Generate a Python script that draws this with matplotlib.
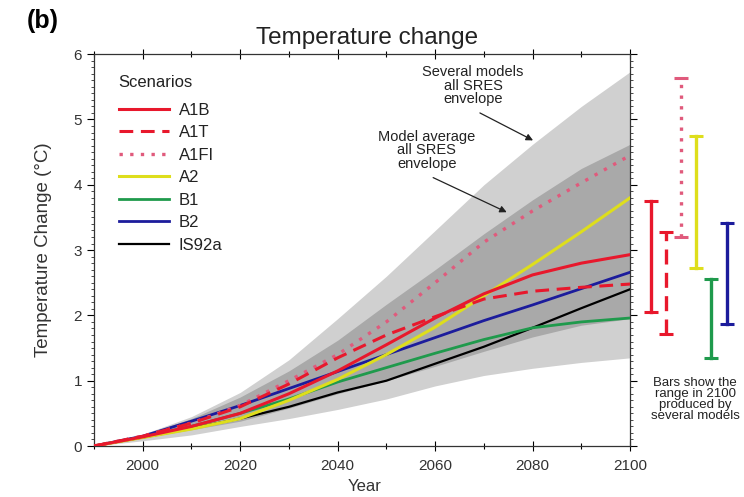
import numpy as np
import matplotlib
matplotlib.use("Agg")
import matplotlib.pyplot as plt
from matplotlib.ticker import MultipleLocator

plt.rcParams['font.family'] = ['Liberation Sans', 'DejaVu Sans']

years = [1990, 2000, 2010, 2020, 2030, 2040, 2050, 2060, 2070, 2080, 2090, 2100]

# envelopes
outer_hi = [0, 0.18, 0.45, 0.82, 1.32, 1.95, 2.60, 3.30, 4.00, 4.62, 5.20, 5.73]
outer_lo = [0, 0.08, 0.17, 0.30, 0.42, 0.56, 0.72, 0.92, 1.08, 1.19, 1.28, 1.35]
inner_hi = [0, 0.17, 0.42, 0.75, 1.15, 1.62, 2.17, 2.70, 3.25, 3.77, 4.25, 4.62]
inner_lo = [0, 0.12, 0.25, 0.38, 0.58, 0.80, 1.00, 1.22, 1.45, 1.67, 1.85, 1.95]

# scenarios
a1b   = [0, 0.14, 0.30, 0.50, 0.80, 1.15, 1.55, 1.96, 2.33, 2.62, 2.80, 2.93]
a1t   = [0, 0.15, 0.35, 0.60, 0.95, 1.35, 1.70, 1.98, 2.25, 2.37, 2.43, 2.48]
a1fi  = [0, 0.15, 0.35, 0.62, 1.00, 1.40, 1.90, 2.50, 3.12, 3.60, 4.03, 4.45]
a2    = [0, 0.13, 0.26, 0.42, 0.70, 1.02, 1.40, 1.82, 2.30, 2.78, 3.28, 3.80]
b1    = [0, 0.14, 0.30, 0.50, 0.72, 0.98, 1.20, 1.42, 1.63, 1.81, 1.90, 1.96]
b2    = [0, 0.15, 0.38, 0.62, 0.88, 1.14, 1.40, 1.66, 1.92, 2.16, 2.41, 2.66]
is92a = [0, 0.13, 0.27, 0.42, 0.60, 0.82, 1.00, 1.26, 1.52, 1.81, 2.11, 2.40]

# ranges in 2100 (bars to the right)
bar_names = ['A1B', 'A1T', 'A1FI', 'A2', 'B1', 'B2']
bar_low  = [2.05, 1.71, 3.20, 2.73, 1.35, 1.87]
bar_high = [3.75, 3.27, 5.63, 4.75, 2.55, 3.41]

red = '#e8182c'
pink = '#e05a7c'
yellow = '#dede1c'
green = '#1f9a4c'
blue = '#1c1c9c'

styles = {
    'A1B':   dict(color=red, ls='-', lw=2.2),
    'A1T':   dict(color=red, ls=(0, (4.5, 2.5)), lw=2.2),
    'A1FI':  dict(color=pink, ls=(0, (1, 2.2)), lw=2.4),
    'A2':    dict(color=yellow, ls='-', lw=2.2),
    'B1':    dict(color=green, ls='-', lw=2.0),
    'B2':    dict(color=blue, ls='-', lw=2.0),
    'IS92a': dict(color='black', ls='-', lw=1.6),
}
series = [('A1B', a1b), ('A1T', a1t), ('A1FI', a1fi), ('A2', a2),
          ('B1', b1), ('B2', b2), ('IS92a', is92a)]

fig = plt.figure(figsize=(7.44, 4.97), dpi=100)
ax = fig.add_axes([0.1263, 0.1026, 0.7205, 0.7884])

ax.fill_between(years, outer_lo, outer_hi, color='#d0d0d0', lw=0, zorder=1)
ax.fill_between(years, inner_lo, inner_hi, color='#a9a9a9', lw=0, zorder=2)

# draw order so red lines stay on top like the original
for name, vals in [('IS92a', is92a), ('B1', b1), ('B2', b2), ('A2', a2),
                   ('A1FI', a1fi), ('A1T', a1t), ('A1B', a1b)]:
    ax.plot(years, vals, zorder=3, **styles[name])

ax.set_xlim(1990, 2100)
ax.set_ylim(0, 6)
ax.xaxis.set_minor_locator(MultipleLocator(10))
ax.yaxis.set_major_locator(MultipleLocator(1))
ax.yaxis.set_minor_locator(MultipleLocator(0.1))
ax.set_xticks([2000, 2020, 2040, 2060, 2080, 2100])
ax.tick_params(axis='y', which='both', direction='out', left=True, right=True,
               labelsize=11, labelcolor='#333333', width=0.8)
ax.tick_params(axis='y', which='major', length=5)
ax.tick_params(axis='y', which='minor', length=2.5, width=0.5)
ax.tick_params(axis='x', which='both', direction='inout', top=True, bottom=True,
               labelsize=11, labelcolor='#333333', width=0.8, pad=6)
ax.tick_params(axis='x', which='major', length=7)
ax.tick_params(axis='x', which='minor', length=4)
for s in ax.spines.values():
    s.set_linewidth(0.9)
    s.set_color('#333333')

ax.set_xlabel('Year', fontsize=12, color='#333333')
ax.xaxis.set_label_coords(0.505, -0.085)
ax.set_ylabel('Temperature Change (°C)', fontsize=13.5, color='#333333')
ax.yaxis.set_label_coords(-0.078, 0.5)
ax.set_title('Temperature change', fontsize=17.5, color='#222222', pad=7, x=0.51)
fig.text(0.036, 0.958, '(b)', fontsize=18, fontweight='bold', ha='left', va='center')

# legend
handles = []
for name, vals in series:
    h, = ax.plot([], [], **styles[name])
    handles.append(h)
leg = ax.legend(handles, [n for n, _ in series], title='Scenarios', loc='upper left',
                bbox_to_anchor=(0.018, 0.985), frameon=False, fontsize=12,
                title_fontsize=12, handlelength=3.0, handletextpad=0.6,
                labelspacing=0.45, alignment='left')
leg._legend_box.sep = 9
for t in leg.get_texts():
    t.set_color('#222222')
leg.get_title().set_color('#222222')

# annotations
ax.text(2067.8, 5.52, 'Several models\nall SRES\nenvelope', fontsize=10.5,
        ha='center', va='center', color='#222222', linespacing=0.95)
ax.annotate('', xy=(2080.1, 4.68), xytext=(2069.2, 5.1),
            arrowprops=dict(arrowstyle='-|>', color='#222222', lw=0.9,
                            shrinkA=0, shrinkB=0, mutation_scale=10))
ax.text(2058.3, 4.53, 'Model average\nall SRES\nenvelope', fontsize=10.5,
        ha='center', va='center', color='#222222', linespacing=0.95)
ax.annotate('', xy=(2074.7, 3.58), xytext=(2059.6, 4.11),
            arrowprops=dict(arrowstyle='-|>', color='#222222', lw=0.9,
                            shrinkA=0, shrinkB=0, mutation_scale=10))

# bars in 2100 outside the axes
bar_x = 2104.3 + 3.1 * np.arange(len(bar_names))
for x, name, lo, hi in zip(bar_x, bar_names, bar_low, bar_high):
    st = styles[name]
    ax.plot([x, x], [lo, hi], color=st['color'], ls=st['ls'], lw=2.4,
            clip_on=False, zorder=4)
    ax.plot([x, x], [lo, hi], color=st['color'], ls='none', marker='_',
            ms=10, mew=2.2, clip_on=False, zorder=4)

ax.text(2113.4, 0.71, 'Bars show the\nrange in 2100\nproduced by\nseveral models',
        fontsize=9.5, ha='center', va='center', color='#222222', linespacing=0.88,
        clip_on=False)

fig.savefig('out.png', dpi=100)
